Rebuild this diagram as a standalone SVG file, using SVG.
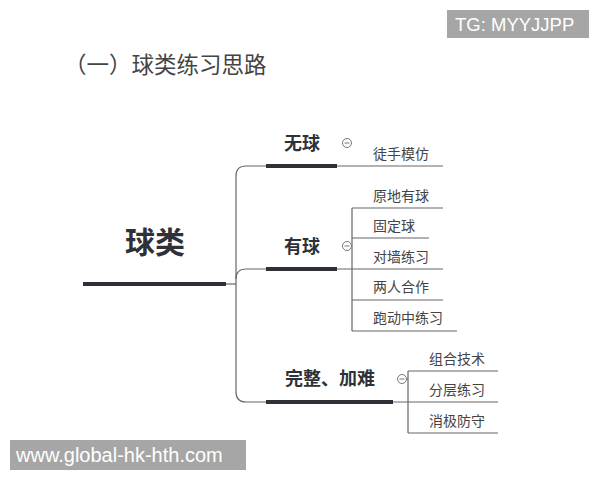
<svg xmlns="http://www.w3.org/2000/svg" width="600" height="480" viewBox="0 0 600 480">
<style>
text{font-family:"Noto Sans CJK SC","Noto Sans",sans-serif;fill:#333}
.title{font-size:22.5px;fill:#444}
.root{font-size:30px;font-weight:bold;fill:#2e3138}
.br{font-size:18px;font-weight:bold;fill:#2e3138}
.leaf{font-size:14px;fill:#444}
.thick{stroke:#2e3138;stroke-width:4;fill:none}
.thin{stroke:#666;stroke-width:1.2;fill:none}
.tog{fill:#fff;stroke:#777;stroke-width:1}
.wm{fill:#a6a6a6}
.wmt{font-family:"Liberation Sans",Arial,sans-serif;fill:#fff;font-size:18.5px}
</style>
<rect width="600" height="480" fill="#fff"/>
<text class="title" x="64" y="73">（一）球类练习思路</text>
<g id="connectors">
<path class="thin" d="M226,284 H236"/>
<path class="thin" d="M266,166 H246 Q236,166 236,176 V392 Q236,402 246,402 H266"/>
<path class="thin" d="M236,279 Q236,269 246,269 H266"/>
<path class="thin" d="M337,166 H443"/>
<path class="thin" d="M337,269 H443"/>
<path class="thin" d="M351,246 H352"/>
<path class="thin" d="M352,208 V331"/>
<path class="thin" d="M352,208 H443"/>
<path class="thin" d="M352,238 H429"/>
<path class="thin" d="M352,300 H443"/>
<path class="thin" d="M352,331 H457"/>
<path class="thin" d="M393,402 H498"/>
<path class="thin" d="M406,379 H408"/>
<path class="thin" d="M408,371 V433"/>
<path class="thin" d="M408,371 H498"/>
<path class="thin" d="M408,433 H498"/>
</g>
<g id="root">
<text class="root" x="155" y="253" text-anchor="middle">球类</text>
<path class="thick" d="M83,284 H226"/>
</g>
<g id="wuqiu">
<text class="br" x="302" y="150" text-anchor="middle">无球</text>
<path class="thick" d="M266,166 H337"/>
<circle class="tog" cx="347" cy="143" r="4.5"/>
<path d="M344.5,143 H349.5" stroke="#777" stroke-width="1"/>
</g>
<g id="youqiu">
<text class="br" x="302" y="253" text-anchor="middle">有球</text>
<path class="thick" d="M266,269 H337"/>
<circle class="tog" cx="347" cy="246" r="4.5"/>
<path d="M344.5,246 H349.5" stroke="#777" stroke-width="1"/>
</g>
<g id="wanzheng">
<text class="br" x="330" y="385" text-anchor="middle">完整、加难</text>
<path class="thick" d="M266,402 H393"/>
<circle class="tog" cx="402" cy="379" r="4.5"/>
<path d="M399.5,379 H404.5" stroke="#777" stroke-width="1"/>
</g>
<g id="leaves">
<text class="leaf" x="373" y="159">徒手模仿</text>
<text class="leaf" x="373" y="201">原地有球</text>
<text class="leaf" x="373" y="231">固定球</text>
<text class="leaf" x="373" y="262">对墙练习</text>
<text class="leaf" x="373" y="292">两人合作</text>
<text class="leaf" x="373" y="323">跑动中练习</text>
<text class="leaf" x="429" y="364">组合技术</text>
<text class="leaf" x="429" y="395">分层练习</text>
<text class="leaf" x="429" y="426">消极防守</text>
</g>
<rect class="wm" x="447" y="10" width="142" height="28"/>
<text class="wmt" x="455" y="31">TG: MYYJJPP</text>
<rect class="wm" x="10" y="440" width="236" height="30"/>
<text class="wmt" x="16" y="462" style="font-size:20px">www.global-hk-hth.com</text>
</svg>
